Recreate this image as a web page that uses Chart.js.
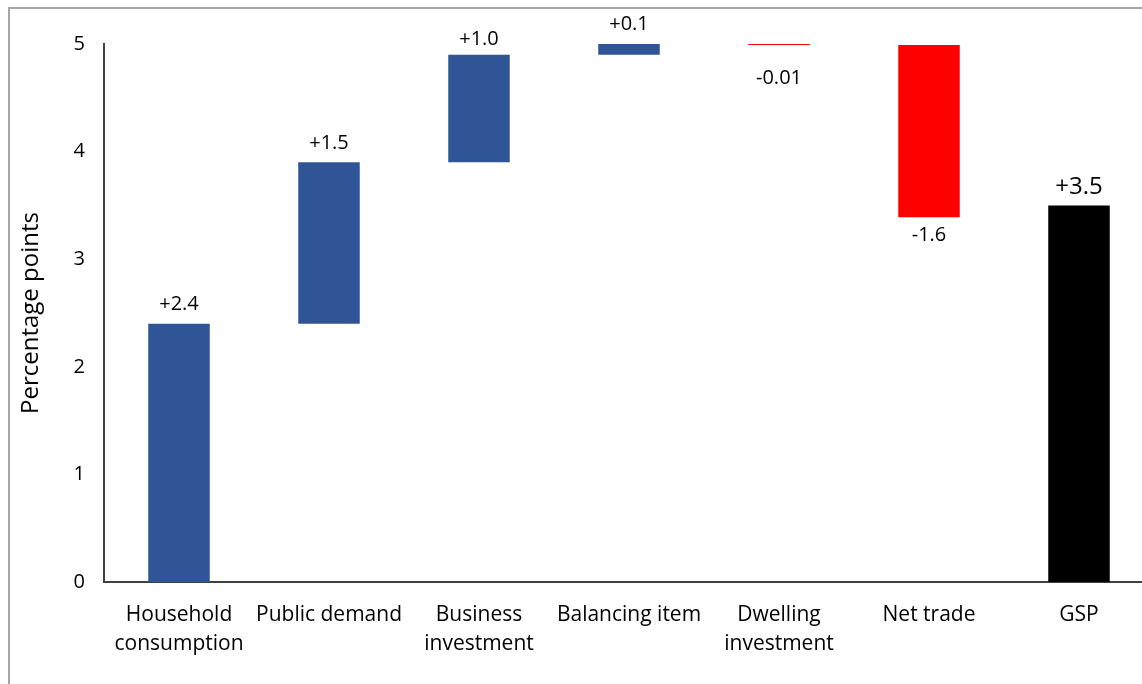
<!DOCTYPE html>
<html>
<head>
<meta charset="utf-8">
<script src="https://cdn.jsdelivr.net/npm/chart.js@4"></script>
<style>
  html, body { margin: 0; padding: 0; background: #fff; overflow: hidden; }
  #wrap { position: relative; width: 1142px; height: 684px; overflow: hidden; }
  #frame { position: absolute; left: 8px; top: 7px; right: -10px; bottom: -10px;
           border-top: 2px solid #a6a6a6; border-left: 2px solid #a6a6a6; }
  #myChart { position: absolute; left: 0; top: 0; }
</style>
</head>
<body>
<div id="wrap">
  <div id="frame"></div>
  <canvas id="myChart" width="1160" height="684"></canvas>
</div>
<script>
// contributions to growth, percentage points
const categories = [["Household", "consumption"], "Public demand", ["Business", "investment"],
    "Balancing item", ["Dwelling", "investment"], "Net trade", "GSP"];
const contributions = [2.4, 1.5, 1.0, 0.1, -0.01, -1.6];
const gspTotal = 3.5;
const yTicks = [0, 1, 2, 3, 4, 5];

const FONT = "'Open Sans', sans-serif";

// build floating bars: each step starts where the previous one ended
let running = 0;
let bars = [];
let labels = [];
contributions.forEach(v => {
    let start = running;
    running = Math.round((running + v) * 1000) / 1000;
    bars.push([start, running]);
    labels.push((v > 0 ? "+" : "") + (Math.abs(v) < 0.1 ? v.toFixed(2) : v.toFixed(1)));
});
bars.push([0, gspTotal]);
labels.push("+" + gspTotal.toFixed(1));

let colors = contributions.map(v => v >= 0 ? "#2f5597" : "#ff0000");
colors.push("#000000");

// gap between bar end and its value label
const labelGaps = [19, 19, 15, 20, 33, 18, 18];

const valueLabels = {
    id: "valueLabels",
    afterDatasetsDraw(chart) {
        let ctx = chart.ctx;
        let meta = chart.getDatasetMeta(0);
        ctx.save();
        ctx.fillStyle = "#000";
        ctx.textAlign = "center";
        ctx.textBaseline = "middle";
        meta.data.forEach((bar, i) => {
            let [s, e] = bars[i];
            let top = Math.min(bar.y, bar.base);
            let bottom = Math.max(bar.y, bar.base);
            let y = e >= s ? top - labelGaps[i] : bottom + labelGaps[i];
            ctx.font = (i === bars.length - 1 ? "24px " : "20px ") + FONT;
            ctx.fillText(labels[i], bar.x, y);
        });
        ctx.restore();
    }
};

let ctx = document.getElementById("myChart").getContext("2d");

new Chart(ctx, {
    type: "bar",
    data: {
        labels: categories,
        datasets: [{
            data: bars,
            backgroundColor: colors,
            borderWidth: 0,
            borderSkipped: false,
            minBarLength: 2,
            barPercentage: 0.41,
            categoryPercentage: 1.0
        }]
    },
    options: {
        responsive: false,
        animation: false,
        layout: { padding: { top: 44, right: 6, left: 0, bottom: 0 } },
        plugins: {
            legend: { display: false },
            tooltip: { enabled: false }
        },
        scales: {
            x: {
                grid: { display: false, drawTicks: false },
                border: { display: true, color: "#404040", width: 2 },
                ticks: {
                    color: "#000",
                    padding: 19,
                    maxRotation: 0,
                    minRotation: 0,
                    font: { family: FONT, size: 21, lineHeight: 1.38 }
                },
                afterFit: scale => { scale.height = 102; }
            },
            y: {
                min: 0,
                max: 5,
                afterBuildTicks: scale => { scale.ticks = yTicks.map(v => ({ value: v })); },
                grid: { display: false, drawTicks: false },
                border: { display: true, color: "#404040", width: 2 },
                ticks: {
                    color: "#000",
                    padding: 19,
                    font: { family: FONT, size: 20 }
                },
                title: {
                    display: true,
                    text: "Percentage points",
                    color: "#000",
                    padding: { top: 17, bottom: 0 },
                    font: { family: FONT, size: 24 }
                },
                afterFit: scale => { scale.width = 104; }
            }
        }
    },
    plugins: [valueLabels]
});
</script>
</body>
</html>
